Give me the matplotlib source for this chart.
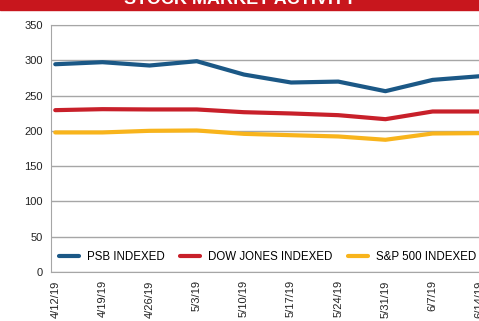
import matplotlib.pyplot as plt

plt.rcParams['font.family'] = ['Liberation Sans', 'DejaVu Sans']

dates = ['4/12/19', '4/19/19', '4/26/19', '5/3/19', '5/10/19',
         '5/17/19', '5/24/19', '5/31/19', '6/7/19', '6/14/19']
psb = [294.6, 297.5, 292.8, 298.9, 280.0, 268.7, 270.0, 256.4, 272.4, 277.6]
dow = [229.5, 230.9, 230.5, 230.5, 226.6, 224.8, 222.4, 216.7, 227.6, 227.6]
sp500 = [197.9, 197.9, 200.2, 200.7, 195.9, 194.0, 192.2, 187.5, 196.4, 196.9]

series = [('PSB INDEXED', psb, '#1b5886'),
          ('DOW JONES INDEXED', dow, '#c8202a'),
          ('S&P 500 INDEXED', sp500, '#f8b41c')]

fig = plt.figure(figsize=(4.79, 3.21), dpi=100)

# red banner with the title, cut by the top edge
fig.patches.append(plt.Rectangle((0, 0.97), 1, 0.04, transform=fig.transFigure,
                                 color='#c8161d', zorder=0))
fig.text(0.5, 1.0, 'STOCK MARKET ACTIVITY', color='white', fontsize=13,
         fontweight='bold', ha='center', va='center')

ax = fig.add_axes([0.1065, 0.1526, 0.9, 0.769])
x = range(len(dates))
for name, vals, col in series:
    ax.plot(x, vals, color=col, lw=3, label=name, solid_capstyle='round')

ax.set_ylim(0, 350)
ax.set_yticks(range(0, 351, 50))
ax.set_xlim(-0.09, 9.05)
ax.set_xticks(list(x))
ax.set_xticklabels(dates, rotation=90, va='top')
ax.tick_params(length=0, labelsize=8, colors='#222222', pad=6)
ax.grid(axis='y', color='#a6a6a6', lw=1)
ax.set_axisbelow(True)
for s in ax.spines.values():
    s.set_color('#a6a6a6')
ax.spines['right'].set_visible(False)

leg = ax.legend(loc='lower left', bbox_to_anchor=(0.0, 0.005), ncol=3, frameon=False,
                fontsize=8.3, handlelength=1.75, columnspacing=1.3,
                handletextpad=0.7, borderaxespad=0.3)

fig.savefig('out.png', dpi=100)
